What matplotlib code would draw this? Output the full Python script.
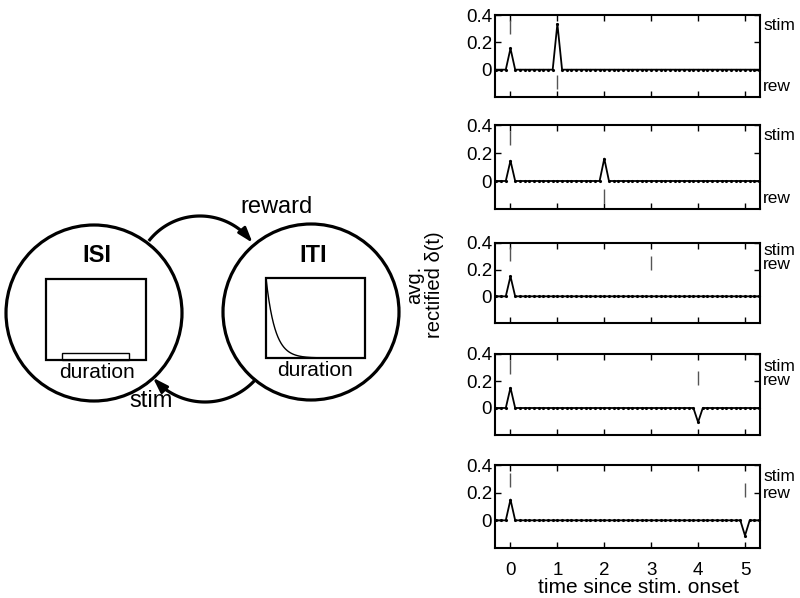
import numpy as np
import matplotlib
matplotlib.use('Agg')
import matplotlib.pyplot as plt
from matplotlib.patches import Circle, Rectangle
import matplotlib.transforms as mtransforms

plt.rcParams['font.family'] = ['Liberation Sans', 'DejaVu Sans']

# ---------------- data ----------------
time_start, time_end, time_step = -0.3, 5.3, 0.1
stim_time = 0.0
reward_times = [1, 2, 3, 4, 5]
stim_response = [0.155, 0.145, 0.15, 0.15, 0.15]
reward_response = [0.335, 0.16, 0.0, -0.105, -0.11]
stim_marker_y = [0.31, 0.31, 0.32, 0.305, 0.29]
reward_marker_y = [-0.09, -0.11, 0.25, 0.22, 0.22]
stim_label_y = [0.325, 0.325, 0.345, 0.305, 0.32]
rew_label_y = [-0.125, -0.125, 0.235, 0.205, 0.195]
x_ticks = [0, 1, 2, 3, 4, 5]
x_tick_labels = ['0', '1', '2', '3', '4', '5']
y_ticks = [0, 0.2, 0.4]
y_tick_labels = ['0', '0.2', '0.4']

W, H = 800, 598
fig = plt.figure(figsize=(W / 100, H / 100), dpi=100)

# ---------------- left diagram (pixel coordinates) ----------------
dax = fig.add_axes([0, 0, 1, 1])
dax.set_xlim(0, W)
dax.set_ylim(H, 0)
dax.axis('off')
dax.patch.set_alpha(0)

dax.add_patch(Circle((94, 313), 88, fill=False, lw=2.3, ec='k'))
dax.add_patch(Circle((311, 312), 88, fill=False, lw=2.3, ec='k'))

# ISI box with uniform distribution
dax.add_patch(Rectangle((46, 279), 100, 81, fill=False, lw=1.6, ec='k'))
dax.add_patch(Rectangle((62, 353), 67, 7, fill=False, lw=1.0, ec='k'))
# ITI box with exponential distribution
dax.add_patch(Rectangle((266, 278), 99, 80, fill=False, lw=1.6, ec='k'))
u = np.linspace(0, 1, 200)
dax.plot(266 + 99 * u, 358 - 80 * np.exp(-u / 0.09), color='k', lw=1.0)

def arc(cx, cy, r, a0, a1, n=100):
    th = np.radians(np.linspace(a0, a1, n))
    return cx + r * np.cos(th), cy - r * np.sin(th)

# reward arc ISI -> ITI
xs, ys = arc(200, 281, 65, 142, 42)
dax.plot(xs, ys, color='k', lw=2.3, solid_capstyle='butt')
xe, ye = arc(200, 281, 65, 44, 36, 2)
dax.annotate('', xy=(xe[1], ye[1]), xytext=(xe[0], ye[0]),
             arrowprops=dict(arrowstyle='-|>,head_length=0.9,head_width=0.3',
                             mutation_scale=10, color='k', lw=2.0,
                             shrinkA=0, shrinkB=0))
# stim arc ITI -> ISI
xs, ys = arc(205, 334, 68, -43, -133)
dax.plot(xs, ys, color='k', lw=2.3, solid_capstyle='butt')
xe, ye = arc(205, 334, 68, -131, -140, 2)
dax.annotate('', xy=(xe[1], ye[1]), xytext=(xe[0], ye[0]),
             arrowprops=dict(arrowstyle='-|>,head_length=0.9,head_width=0.3',
                             mutation_scale=10, color='k', lw=2.0,
                             shrinkA=0, shrinkB=0))

dax.text(97, 256, 'ISI', ha='center', va='center', fontsize=17, fontweight='bold')
dax.text(313, 256, 'ITI', ha='center', va='center', fontsize=17, fontweight='bold')
dax.text(97, 372, 'duration', ha='center', va='center', fontsize=15)
dax.text(315, 371, 'duration', ha='center', va='center', fontsize=15)
dax.text(277, 207, 'reward', ha='center', va='center', fontsize=17)
dax.text(151, 401, 'stim', ha='center', va='center', fontsize=17)

# ---------------- right panels ----------------
panel_px = [(15, 97), (125, 209), (243, 323), (354, 435), (465, 548)]
left_px, right_px = 495, 760

t = np.round(np.arange(time_start, time_end + 1e-9, time_step), 1)

for i, (top, bot) in enumerate(panel_px):
    ax = fig.add_axes([left_px / W, 1 - bot / H, (right_px - left_px) / W, (bot - top) / H])
    delta = np.zeros_like(t)
    delta[np.isclose(t, stim_time)] += stim_response[i]
    delta[np.isclose(t, reward_times[i])] += reward_response[i]
    ax.plot(t, delta, color='k', lw=1.3, marker='.', ms=2.5, clip_on=False)
    ax.plot([stim_time], [stim_marker_y[i]], marker='|', ms=10, mew=1.0, color='#555555', ls='none')
    ax.plot([reward_times[i]], [reward_marker_y[i]], marker='|', ms=10, mew=1.0, color='#555555', ls='none')
    ax.set_xlim(-0.33, 5.32)
    ax.set_ylim(-0.2, 0.4)
    ax.set_xticks(x_ticks)
    ax.set_yticks(y_ticks)
    ax.set_yticklabels(y_tick_labels)
    ax.tick_params(direction='in', length=4, width=1, top=True, right=True,
                   labelsize=13.5)
    ax.tick_params(axis='y', pad=2)
    ax.tick_params(axis='x', pad=10)
    if i == len(panel_px) - 1:
        ax.set_xticklabels(x_tick_labels)
    else:
        ax.set_xticklabels([])
    for s in ax.spines.values():
        s.set_linewidth(1.5)
    tr = mtransforms.blended_transform_factory(ax.transAxes, ax.transData)
    ax.text(1.012, stim_label_y[i], 'stim', transform=tr, ha='left', va='center', fontsize=12.5)
    ax.text(1.012, rew_label_y[i], 'rew', transform=tr, ha='left', va='center', fontsize=12.5)

# axis labels
fig.text(415 / W, 1 - 285 / H, 'avg.', rotation=90, ha='center', va='center', fontsize=14.5)
fig.text(435 / W, 1 - 285 / H, 'rectified δ(t)', rotation=90, ha='center', va='center', fontsize=14.5)
fig.text(639 / W, 1 - 593 / H, 'time since stim. onset', ha='center', va='baseline', fontsize=15)

fig.savefig('out.png', dpi=100)
